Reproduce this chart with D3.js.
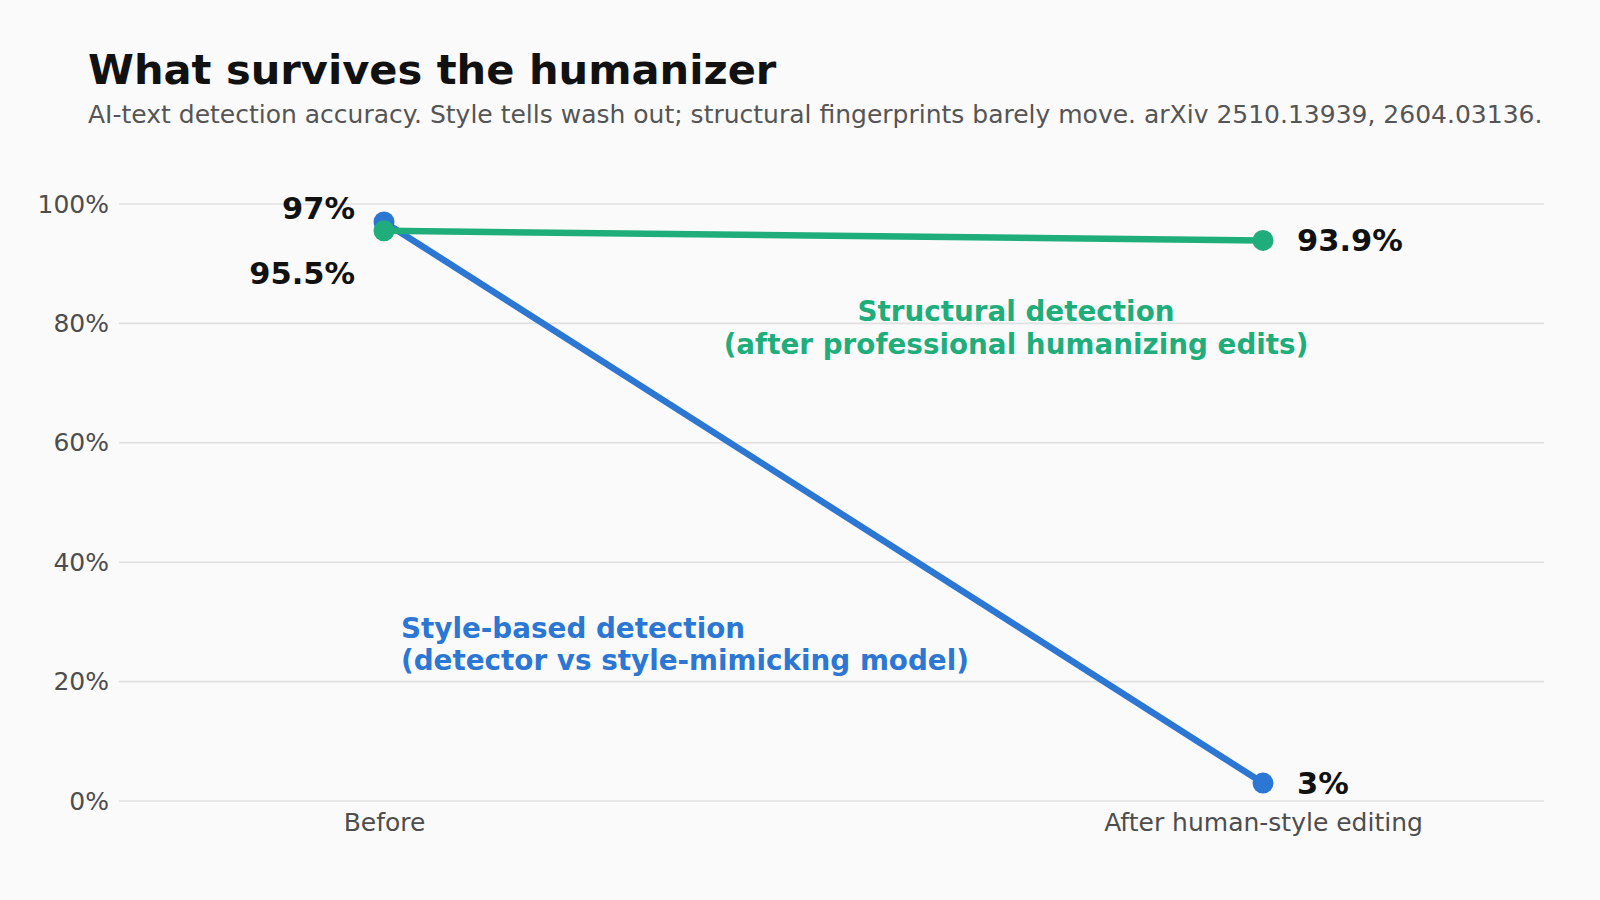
<!DOCTYPE html>
<html>
<head>
<meta charset="utf-8">
<script src="https://cdn.jsdelivr.net/npm/d3@7"></script>
<style>
  body { margin: 0; background: #fafafa; }
  svg { display: block; font-family: "DejaVu Sans", sans-serif; }
</style>
</head>
<body>
<svg width="1600" height="900"></svg>
<script>
// data
const stages = ["Before", "After human-style editing"];
const styleValues = [97, 3];
const structValues = [95.5, 93.9];
const yTicks = [0, 20, 40, 60, 80, 100];

const blue = "#2b77d3";
const green = "#1fae7b";

const svg = d3.select("svg");

svg.append("rect").attr("width", 1600).attr("height", 900).attr("fill", "#fafafa");

// scales
const x = d3.scalePoint().domain(stages).range([384, 1263]);
const y = d3.scaleLinear().domain([0, 100]).range([801, 204]);

// title + subtitle
svg.append("text")
  .attr("x", 88).attr("y", 84)
  .attr("font-size", 41.6).attr("font-weight", "bold").attr("fill", "#111")
  .text("What survives the humanizer");

svg.append("text")
  .attr("x", 88).attr("y", 123)
  .attr("font-size", 25).attr("fill", "#555")
  .text("AI-text detection accuracy. Style tells wash out; structural fingerprints barely move. arXiv 2510.13939, 2604.03136.");

// gridlines
svg.append("g").selectAll("line")
  .data(yTicks)
  .enter().append("line")
  .attr("x1", 119).attr("x2", 1544)
  .attr("y1", d => y(d)).attr("y2", d => y(d))
  .attr("stroke", "#e0e0e0").attr("stroke-width", 1.6);

// y axis labels (d3 axis, no domain/ticks)
const yAxis = svg.append("g")
  .attr("transform", "translate(119,0)")
  .call(d3.axisLeft(y).tickValues(yTicks).tickFormat(d => d + "%").tickSize(0).tickPadding(10));
yAxis.select(".domain").remove();
yAxis.selectAll("text").attr("font-size", 25).attr("fill", "#4d4d4d")
  .attr("font-family", "DejaVu Sans, sans-serif");

// x axis labels
const xAxis = svg.append("g")
  .attr("transform", "translate(0,801)")
  .call(d3.axisBottom(x).tickSize(0).tickPadding(12));
xAxis.select(".domain").remove();
xAxis.selectAll("text").attr("font-size", 25).attr("fill", "#4d4d4d")
  .attr("font-family", "DejaVu Sans, sans-serif");

const line = d3.line().x((d, i) => x(stages[i])).y(d => y(d));

function series(vals, color) {
  const g = svg.append("g");
  g.append("path")
    .datum(vals)
    .attr("d", line)
    .attr("fill", "none")
    .attr("stroke", color)
    .attr("stroke-width", 6.5)
    .attr("stroke-linecap", "round");
  g.selectAll("circle")
    .data(vals)
    .enter().append("circle")
    .attr("cx", (d, i) => x(stages[i]))
    .attr("cy", d => y(d))
    .attr("r", 10.5)
    .attr("fill", color);
}

series(styleValues, blue);
series(structValues, green);

// value labels
const lab = svg.append("g").attr("font-size", 30.5).attr("font-weight", "bold").attr("fill", "#111");
lab.append("text")
  .attr("x", 355).attr("y", y(styleValues[0]) - 13)
  .attr("text-anchor", "end").attr("dominant-baseline", "central")
  .text(styleValues[0] + "%");
lab.append("text")
  .attr("x", 355).attr("y", y(structValues[0]) + 43)
  .attr("text-anchor", "end").attr("dominant-baseline", "central")
  .text(structValues[0] + "%");
lab.append("text")
  .attr("x", x(stages[1]) + 34).attr("y", y(structValues[1]))
  .attr("dominant-baseline", "central")
  .text(structValues[1] + "%");
lab.append("text")
  .attr("x", x(stages[1]) + 34).attr("y", y(styleValues[1]))
  .attr("dominant-baseline", "central")
  .text(styleValues[1] + "%");

// series annotations
const sNote = svg.append("text")
  .attr("font-size", 27.8).attr("font-weight", "bold").attr("fill", green)
  .attr("text-anchor", "middle");
sNote.append("tspan").attr("x", 1016).attr("y", 321).text("Structural detection");
sNote.append("tspan").attr("x", 1016).attr("y", 354).text("(after professional humanizing edits)");

const bNote = svg.append("text")
  .attr("font-size", 27.8).attr("font-weight", "bold").attr("fill", blue);
bNote.append("tspan").attr("x", 401).attr("y", 638).text("Style-based detection");
bNote.append("tspan").attr("x", 401).attr("y", 670).text("(detector vs style-mimicking model)");
</script>
</body>
</html>
